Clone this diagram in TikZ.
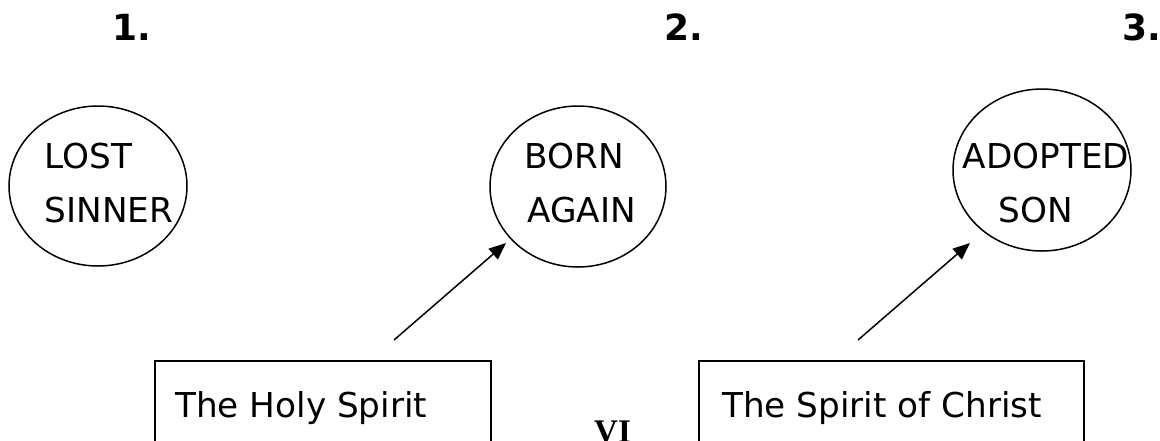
\documentclass[tikz,border=0pt]{standalone}
\usepackage{fontspec}
\usetikzlibrary{shapes.geometric,arrows.meta}
\newfontfamily\dvfont{DejaVu Sans}
\newfontfamily\serfont{Liberation Serif}
\tikzset{
  circ/.style={ellipse, draw, line width=1.5pt, inner sep=0pt},
  txt/.style={anchor=base west, inner sep=0pt, font=\dvfont\fontsize{34.25}{40}\selectfont},
  num/.style={anchor=base west, inner sep=0pt, font=\dvfont\bfseries\fontsize{36}{40}\selectfont},
  boxnode/.style={draw, line width=1.5pt, anchor=north west, inner sep=0pt},
  arr/.style={line width=1.5pt, -{Triangle[length=17pt,width=14pt]}}
}
\begin{document}
\begin{tikzpicture}[x=1pt,y=-1pt]
\clip (0,0) rectangle (1160,440);
\fill[white] (0,0) rectangle (1160,440);
% numbers
\node[num] (n1) at (112,40) {1.};
\node[num] (n2) at (664,40) {2.};
\node[num] (n3) at (1122,40) {3.};
% circles
\node[circ, minimum width=178pt, minimum height=160pt] (c1) at (98,186) {};
\node[circ, minimum width=176pt, minimum height=161pt] (c2) at (578,186.5) {};
\node[circ, minimum width=178pt, minimum height=162pt] (c3) at (1042,170) {};
\node[txt] (t1a) at (44.6,168) {LOST};
\node[txt] (t1b) at (44.7,222) {SINNER};
\node[txt] (t2a) at (524.6,168) {BORN};
\node[txt] (t2b) at (527.4,222) {AGAIN};
\node[txt] (t3a) at (962.7,168) {ADOPTED};
\node[txt] (t3b) at (998.7,222) {SON};
% boxes
\node[boxnode, minimum width=336pt, minimum height=160pt] (b1) at (154,360) {};
\node[boxnode, minimum width=385pt, minimum height=160pt] (b2) at (698,360) {};
\node[txt] (bt1) at (175,417) {The Holy Spirit};
\node[txt] (bt2) at (722,417) {The Spirit of Christ};
% VI
\node[anchor=base west, inner sep=0pt, font=\serfont\bfseries\fontsize{33}{36}\selectfont] (vi) at (594,442) {VI};
% arrows
\coordinate (a1s) at (394,340);
\coordinate (a1e) at (506,243);
\coordinate (a2s) at (858,340);
\coordinate (a2e) at (970,243);
\draw[arr] (a1s) -- (a1e);
\draw[arr] (a2s) -- (a2e);
\end{tikzpicture}
\end{document}
